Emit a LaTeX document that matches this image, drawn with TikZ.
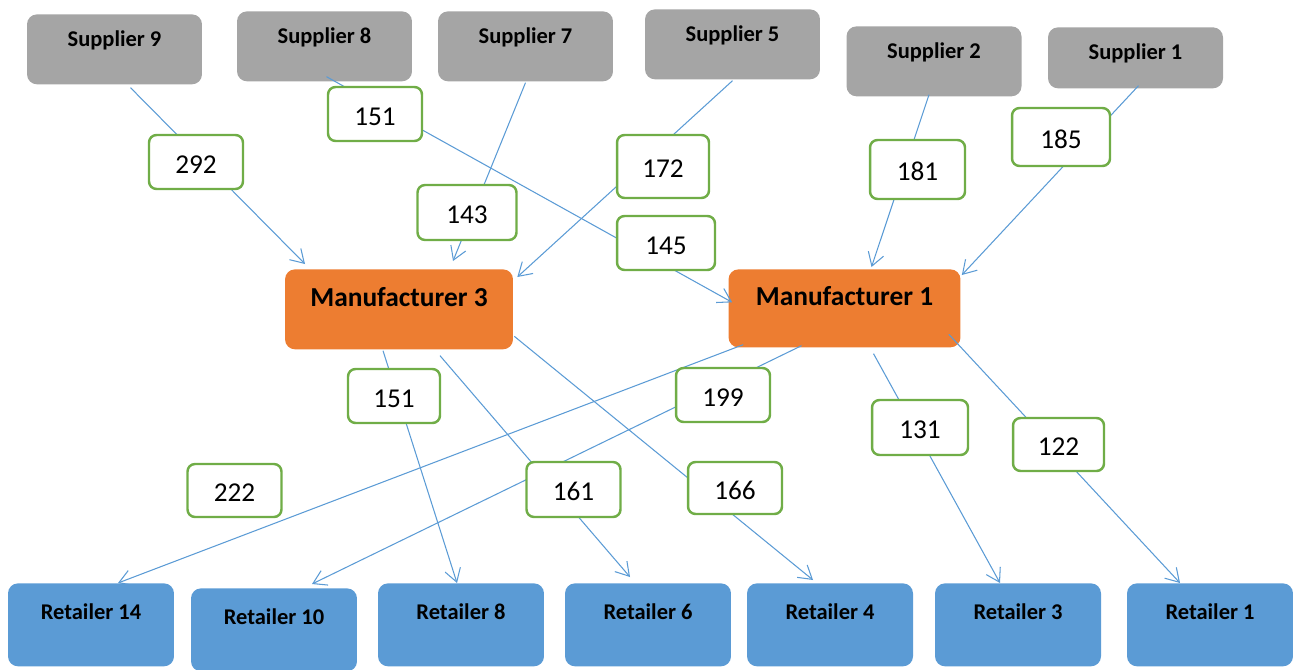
\documentclass[tikz,border=0pt]{standalone}
\usepackage{fontspec}
\setmainfont{Carlito}
\usetikzlibrary{arrows.meta,calc}

\definecolor{supgray}{HTML}{A5A5A5}
\definecolor{manorange}{HTML}{ED7D31}
\definecolor{retblue}{HTML}{5B9BD5}
\definecolor{qtygreen}{HTML}{70AD47}

\begin{document}
\begin{tikzpicture}[x=0.02cm,y=-0.02cm,
    box/.style={anchor=north,rounded corners=0.2cm,inner sep=0pt,text height=0.2cm,text depth=0.3cm,
      font=\fontsize{12.8}{15}\selectfont\bfseries},
    sup/.style={box,fill=supgray,minimum width=3.5cm,minimum height=1.4cm},
    man/.style={box,fill=manorange,minimum height=1.6cm,font=\fontsize{15.6}{18}\selectfont\bfseries},
    ret/.style={box,fill=retblue,minimum width=3.32cm,minimum height=1.66cm,text depth=0.42cm},
    qty/.style={draw=qtygreen,line width=1.4pt,fill=white,rounded corners=0.15cm,inner sep=0pt,
      minimum width=1.88cm,minimum height=1.08cm,text height=0.45cm,text depth=0pt,
      font=\fontsize{15.5}{18}\selectfont},
    flow/.style={draw=retblue,line width=0.6pt,-{Straight Barb[length=0.26cm,width=0.32cm]}}]
  \useasboundingbox (0,0) rectangle (1293,669);

  \node[sup] (s9) at (114.5,14) {Supplier 9};
  \node[sup] (s8) at (324.5,11) {Supplier 8};
  \node[sup] (s7) at (525.5,11) {Supplier 7};
  \node[sup] (s5) at (732.5,9) {Supplier 5};
  \node[sup] (s2) at (934,26) {Supplier 2};
  \node[sup,minimum height=1.22cm,text depth=0.14cm] (s1) at (1135.5,27) {Supplier 1};

  \node[man,minimum width=4.56cm] (m3) at (399,269) {Manufacturer 3};
  \node[man,minimum width=4.64cm,minimum height=1.56cm] (m1) at (844.5,269) {Manufacturer 1};

  \node[ret] (r14) at (91,583) {Retailer 14};
  \node[ret] (r10) at (274,588) {Retailer 10};
  \node[ret] (r8) at (461,583) {Retailer 8};
  \node[ret] (r6) at (648,583) {Retailer 6};
  \node[ret] (r4) at (830,583) {Retailer 4};
  \node[ret] (r3) at (1018,583) {Retailer 3};
  \node[ret] (r1) at (1210,583) {Retailer 1};

  \draw[flow] ($(s9.south)+(16,3)$) -- ($(m3.north)+(-94,-5)$);
  \draw[flow] ($(s8.south)+(2,-5)$) -- ($(m1.west)+(4,-6)$);
  \draw[flow] ($(s7.south)+(0,1)$) -- ($(m3.north)+(54,-8)$);
  \draw[flow] ($(s5.south)+(0,1)$) -- ($(m3.north east)+(4,8)$);
  \draw[flow] ($(s2.south)+(-5,-2)$) -- ($(m1.north)+(27,-2)$);
  \draw[flow] ($(s1.south)+(3,-3)$) -- ($(m1.north east)+(1,6)$);

  \draw[flow] ($(m3.south)+(-16,1)$) -- ($(r8.north)+(-4,0)$);
  \draw[flow] ($(m3.south)+(41,6)$) -- ($(r6.north)+(-18,-6)$);
  \draw[flow] ($(m3.east)+(1,27)$) -- ($(r4.north)+(-17,-3)$);
  \draw[flow] ($(m1.south west)+(15,-3)$) -- ($(r14.north)+(27,0)$);
  \draw[flow] ($(m1.south)+(-43,-2)$) -- ($(r10.north)+(38,-4)$);
  \draw[flow] ($(m1.south)+(29,6)$) -- ($(r3.north)+(-18,0)$);
  \draw[flow] ($(m1.east)+(-12,26)$) -- ($(r1.north)+(-30,0)$);

  \node[qty] (q292) at (196,162) {292};
  \node[qty] (q151a) at (375,114) {151};
  \node[qty,minimum width=1.98cm,minimum height=1.1cm] (q143) at (467,212.5) {143};
  \node[qty,minimum width=1.84cm,minimum height=1.26cm] (q172) at (663,166.5) {172};
  \node[qty,minimum width=1.96cm] (q145) at (666,243) {145};
  \node[qty,minimum width=1.9cm,minimum height=1.18cm] (q181) at (917.5,169.5) {181};
  \node[qty,minimum width=1.96cm,minimum height=1.16cm] (q185) at (1061,137) {185};
  \node[qty,minimum width=1.84cm] (q151b) at (394,396) {151};
  \node[qty] (q199) at (723,395) {199};
  \node[qty,minimum width=1.92cm,minimum height=1.1cm] (q131) at (920,427.5) {131};
  \node[qty,minimum width=1.82cm,minimum height=1.06cm] (q122) at (1058.5,444.5) {122};
  \node[qty,minimum height=1.06cm] (q222) at (234.5,490.5) {222};
  \node[qty,minimum height=1.1cm] (q161) at (573.5,489.5) {161};
  \node[qty,minimum height=1.04cm] (q166) at (735,488) {166};
\end{tikzpicture}
\end{document}
